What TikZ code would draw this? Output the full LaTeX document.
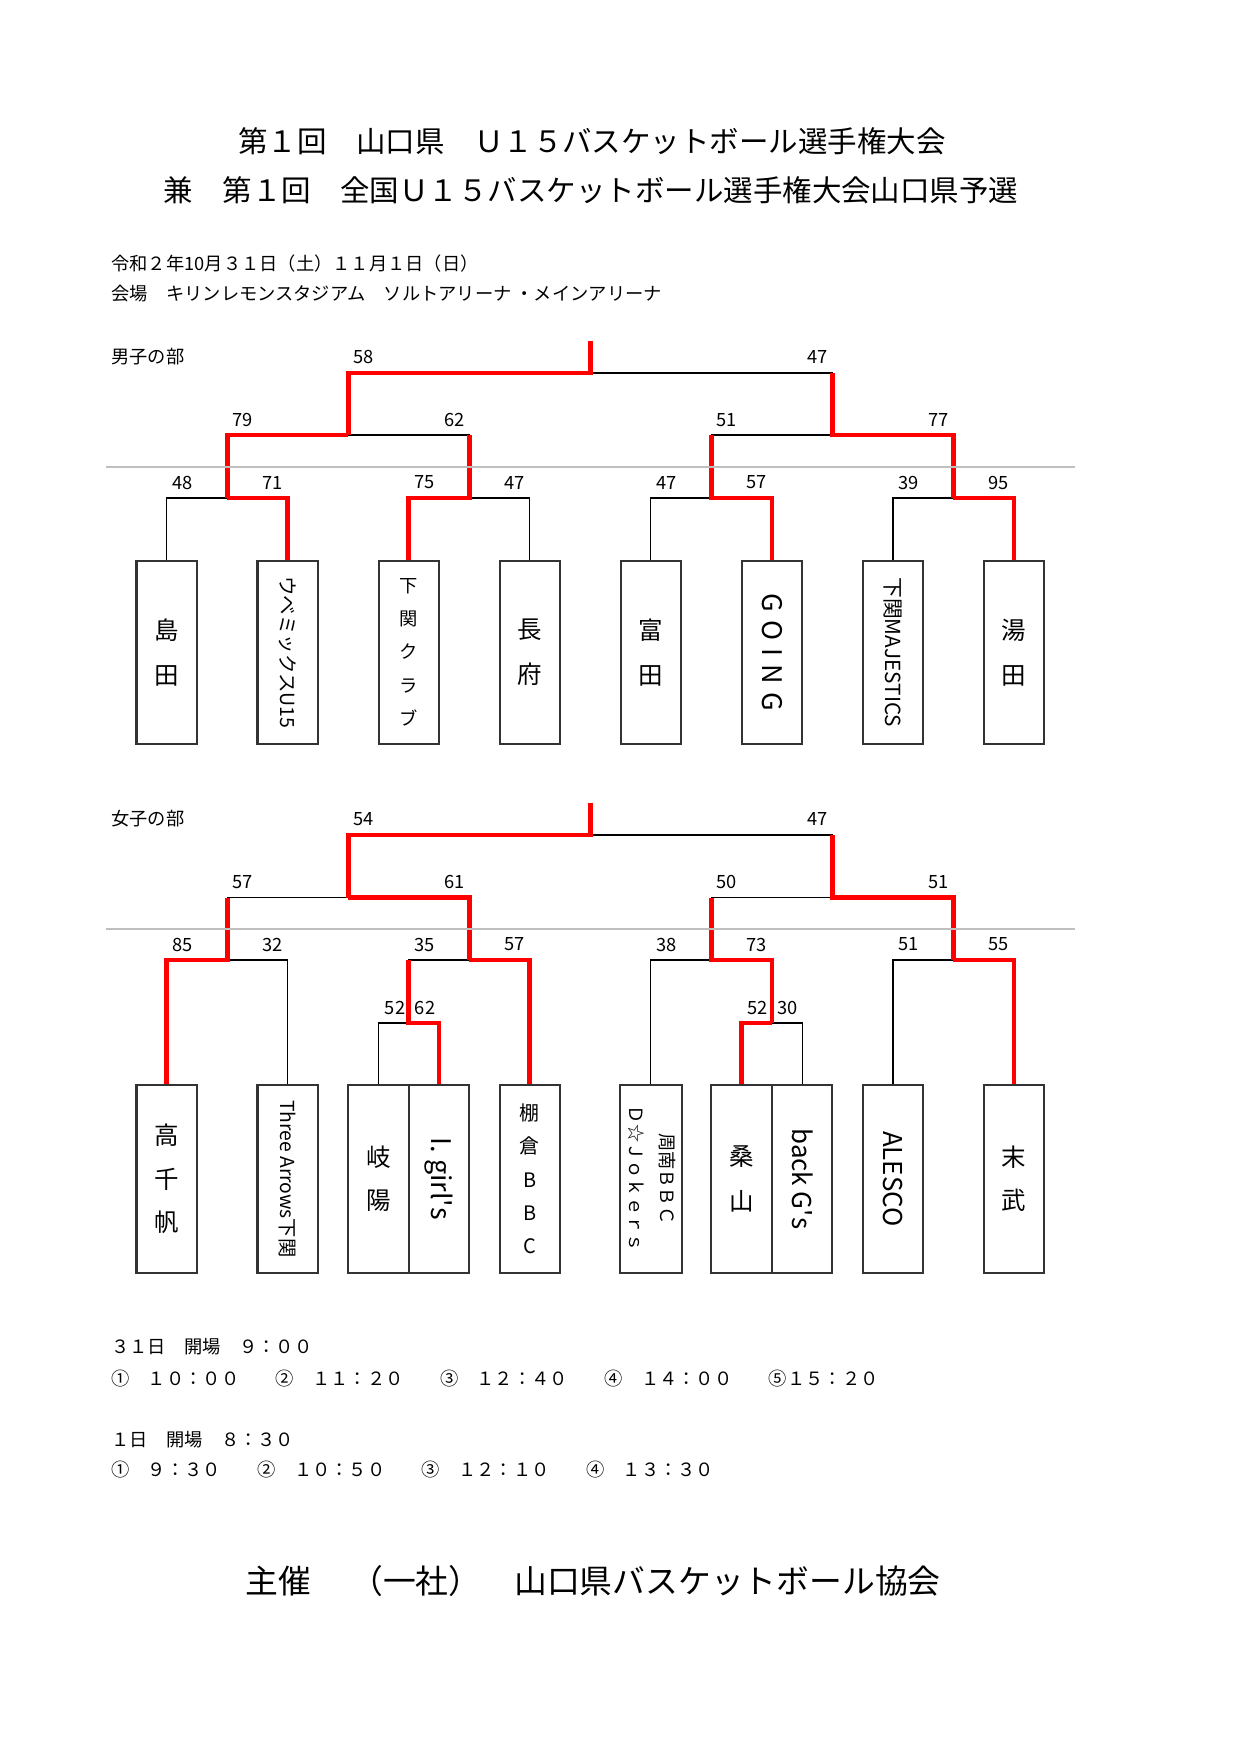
\documentclass[tikz,border=0pt]{standalone}
\usepackage{fontspec}
\setmainfont{Noto Sans CJK JP}

\begin{document}
\begin{tikzpicture}[
    x=0.16933mm, y=-0.16933mm,
    bracket/.style={draw=black, line width=0.65pt},
    win/.style={draw=red, line width=2.3pt},
    divider/.style={draw=black!25, line width=0.65pt},
    team/.style={draw=black!80, line width=1pt, anchor=north, inner sep=0pt, minimum width=10.24mm, minimum height=31.07mm, align=center},
    wteam/.style={team, minimum height=31.75mm},
    kanji/.style={font=\fontsize{11.8}{21.7}\selectfont},
    kana/.style={font=\fontsize{8.8}{16}\selectfont},
    score/.style={font=\fontsize{8.8}{10}\selectfont, inner sep=0pt},
    info/.style={font=\fontsize{8.8}{10}\selectfont, inner sep=0pt, anchor=west},
    headline/.style={font=\fontsize{14.2}{17}\selectfont, inner sep=0pt}
  ]

  \fill[white] (0,0) rectangle (1241,1754);
  \useasboundingbox (0,0) rectangle (1241,1754);

  % Heading
  \node[headline] (title1) at (592,141) {第１回　山口県　Ｕ１５バスケットボール選手権大会};
  \node[headline] (title2) at (591,190) {兼　第１回　全国Ｕ１５バスケットボール選手権大会山口県予選};
  \node[info] (date) at (111,264) {令和２年10月３１日（土）１１月１日（日）};
  \node[info] (venue) at (111,294) {会場　キリンレモンスタジアム　ソルトアリーナ ・メインアリーナ};

  % Boys
  \node[info] (boys) at (111,357) {男子の部};

  \node[team, kanji] (mb1) at (166.7,559.5) {島\\田};
  \node[team, font=\fontsize{9.4}{12}\selectfont] (mb2) at (287.7,559.5) {\rotatebox{-90}{ウベミックスU15}};
  \node[team, kana] (mb3) at (408.8,559.5) {下\\関\\ク\\ラ\\ブ};
  \node[team, kanji] (mb4) at (529.8,559.5) {長\\府};
  \node[team, kanji] (mb5) at (650.8,559.5) {富\\田};
  \node[team, font=\fontsize{13}{15}\selectfont] (mb6) at (771.9,559.5) {\rotatebox{-90}{G\hspace{0.3em}O\hspace{0.3em}I\hspace{0.3em}N\hspace{0.3em}G}};
  \node[team, font=\fontsize{10}{12}\selectfont] (mb7) at (892.9,559.5) {\rotatebox{-90}{下関MAJESTICS}};
  \node[team, kanji] (mb8) at (1013.9,559.5) {湯\\田};

  \coordinate (mq1) at (227.2,498);
  \coordinate (mq2) at (469.3,498);
  \coordinate (mq3) at (711.4,498);
  \coordinate (mq4) at (953.4,498);
  \coordinate (ms1) at (348.3,435);
  \coordinate (ms2) at (832.4,435);
  \coordinate (mf) at (590.3,373);
  \coordinate (mtop) at (590.3,341);

  \draw[bracket] (mb1.north) |- (mq1) -| (mb2.north);
  \draw[bracket] (mb3.north) |- (mq2) -| (mb4.north);
  \draw[bracket] (mb5.north) |- (mq3) -| (mb6.north);
  \draw[bracket] (mb7.north) |- (mq4) -| (mb8.north);
  \draw[bracket] (mq1) |- (ms1) -| (mq2);
  \draw[bracket] (mq3) |- (ms2) -| (mq4);
  \draw[bracket] (ms1) |- (mf) -| (ms2);

  \draw[win] (mtop) -- (mf) -| (ms1);
  \draw[win] (ms1) -| (mq1);
  \draw[win] (mq1) -| (mb2.north);
  \draw[win] (mq2 |- ms1) -- (mq2) -| (mb3.north);
  \draw[win] (ms2 |- mf) -- (ms2) -| (mq4);
  \draw[win] (mq3 |- ms2) -- (mq3) -| (mb6.north);
  \draw[win] (mq4) -| (mb8.north);

  \node[score] (mf-a) at (363.8,357) {58};
  \node[score] (mf-b) at (817.4,357) {47};
  \node[score] (ms1-a) at (242.7,420) {79};
  \node[score] (ms1-b) at (454.3,420) {62};
  \node[score] (ms2-a) at (726.9,420) {51};
  \node[score] (ms2-b) at (938.4,420) {77};
  \node[score] (mq1-a) at (182.2,482.5) {48};
  \node[score] (mq1-b) at (272.7,482.5) {71};
  \node[score] (mq2-a) at (424.3,482.5) {75};
  \node[score] (mq2-b) at (514.8,482.5) {47};
  \node[score] (mq3-a) at (666.3,482.5) {47};
  \node[score] (mq3-b) at (756.9,482.5) {57};
  \node[score] (mq4-a) at (908.4,482.5) {39};
  \node[score] (mq4-b) at (998.9,482.5) {95};

  \draw[divider] (106,467) -- (1075,467);

  % Girls
  \node[info] (girls) at (111,819) {女子の部};

  \node[wteam, font=\fontsize{11.8}{21}\selectfont] (wb1) at (166.7,1084) {高\\千\\帆};
  \node[wteam, font=\fontsize{9.3}{12}\selectfont] (wb2) at (287.7,1084) {\rotatebox{-90}{Three Arrows下関}};
  \node[wteam, font=\fontsize{11.8}{20.7}\selectfont] (wb3) at (378.5,1084) {岐\\陽};
  \node[wteam, font=\fontsize{13}{15}\selectfont] (wb4) at (439.1,1084) {\rotatebox{-90}{I. girl\textquotesingle s}};
  \node[wteam, font=\fontsize{9.6}{16}\selectfont] (wb5) at (529.8,1084) {棚\\倉\\B\\B\\C};
  \node[wteam, font=\fontsize{8.8}{14.9}\selectfont] (wb6) at (650.8,1084) {\rotatebox{-90}{\begin{tabular}{@{}c@{}}周南ＢＢＣ\\Ｄ☆Ｊｏｋｅｒｓ\end{tabular}}};
  \node[wteam, font=\fontsize{11.8}{21.7}\selectfont] (wb7) at (741.6,1084) {桑\\山};
  \node[wteam, font=\fontsize{12.5}{15}\selectfont] (wb8) at (802.2,1084) {\rotatebox{-90}{back G\textquotesingle s}};
  \node[wteam, font=\fontsize{12.5}{15}\selectfont] (wb9) at (892.9,1084) {\rotatebox{-90}{ALESCO}};
  \node[wteam, font=\fontsize{11.8}{20.7}\selectfont] (wb10) at (1013.9,1084) {末\\武};

  \coordinate (wr1) at (408.8,1023);
  \coordinate (wr2) at (771.9,1023);
  \coordinate (wq1) at (227.2,960);
  \coordinate (wq2) at (469.3,960);
  \coordinate (wq3) at (711.4,960);
  \coordinate (wq4) at (953.4,960);
  \coordinate (ws1) at (348.3,897.5);
  \coordinate (ws2) at (832.4,897.5);
  \coordinate (wf) at (590.3,835);
  \coordinate (wtop) at (590.3,803);

  \draw[bracket] (wb1.north) |- (wq1) -| (wb2.north);
  \draw[bracket] (wb3.north) |- (wr1) -| (wb4.north);
  \draw[bracket] (wr1) |- (wq2) -| (wb5.north);
  \draw[bracket] (wb6.north) |- (wq3) -| (wr2);
  \draw[bracket] (wb7.north) |- (wr2) -| (wb8.north);
  \draw[bracket] (wb9.north) |- (wq4) -| (wb10.north);
  \draw[bracket] (wq1) |- (ws1) -| (wq2);
  \draw[bracket] (wq3) |- (ws2) -| (wq4);
  \draw[bracket] (ws1) |- (wf) -| (ws2);

  \draw[win] (wtop) -- (wf) -| (ws1);
  \draw[win] (ws1) -| (wq2);
  \draw[win] (wq1 |- ws1) -- (wq1) -| (wb1.north);
  \draw[win] (wq2) -| (wb5.north);
  \draw[win] (wr1 |- wq2) -- (wr1) -| (wb4.north);
  \draw[win] (ws2 |- wf) -- (ws2) -| (wq4);
  \draw[win] (wq3 |- ws2) -- (wq3) -| (wr2);
  \draw[win] (wr2) -| (wb7.north);
  \draw[win] (wq4) -| (wb10.north);

  \node[score] (wf-a) at (363.8,819) {54};
  \node[score] (wf-b) at (817.4,819) {47};
  \node[score] (ws1-a) at (242.7,882) {57};
  \node[score] (ws1-b) at (454.3,882) {61};
  \node[score] (ws2-a) at (726.9,882) {50};
  \node[score] (ws2-b) at (938.4,882) {51};
  \node[score] (wq1-a) at (182.2,944.5) {85};
  \node[score] (wq1-b) at (272.7,944.5) {32};
  \node[score] (wq2-a) at (424.3,944.5) {35};
  \node[score] (wq2-b) at (514.8,944.5) {57};
  \node[score] (wq3-a) at (666.3,944.5) {38};
  \node[score] (wq3-b) at (756.9,944.5) {73};
  \node[score] (wq4-a) at (908.4,944.5) {51};
  \node[score] (wq4-b) at (998.9,944.5) {55};
  \node[score] (wr1-a) at (395,1007.5) {52};
  \node[score] (wr1-b) at (425,1007.5) {62};
  \node[score] (wr2-a) at (757.6,1007.5) {52};
  \node[score] (wr2-b) at (787.8,1007.5) {30};

  \draw[divider] (106,929) -- (1075,929);

  % Schedule
  \node[info] (day1) at (111,1347) {３１日　開場　９：００};
  \node[info] (times1) at (111,1379) {①　１０：００　　②　１１：２０　　③　１２：４０　　④　１４：００　　⑤１５：２０};
  \node[info] (day2) at (111,1440) {１日　開場　８：３０};
  \node[info] (times2) at (111,1470) {①　９：３０　　②　１０：５０　　③　１２：１０　　④　１３：３０};

  \node[font=\fontsize{15.8}{19}\selectfont, inner sep=0pt] (host) at (593,1581) {主催\hspace{1.2em}（一社）\hspace{1em}山口県バスケットボール協会};

\end{tikzpicture}
\end{document}
